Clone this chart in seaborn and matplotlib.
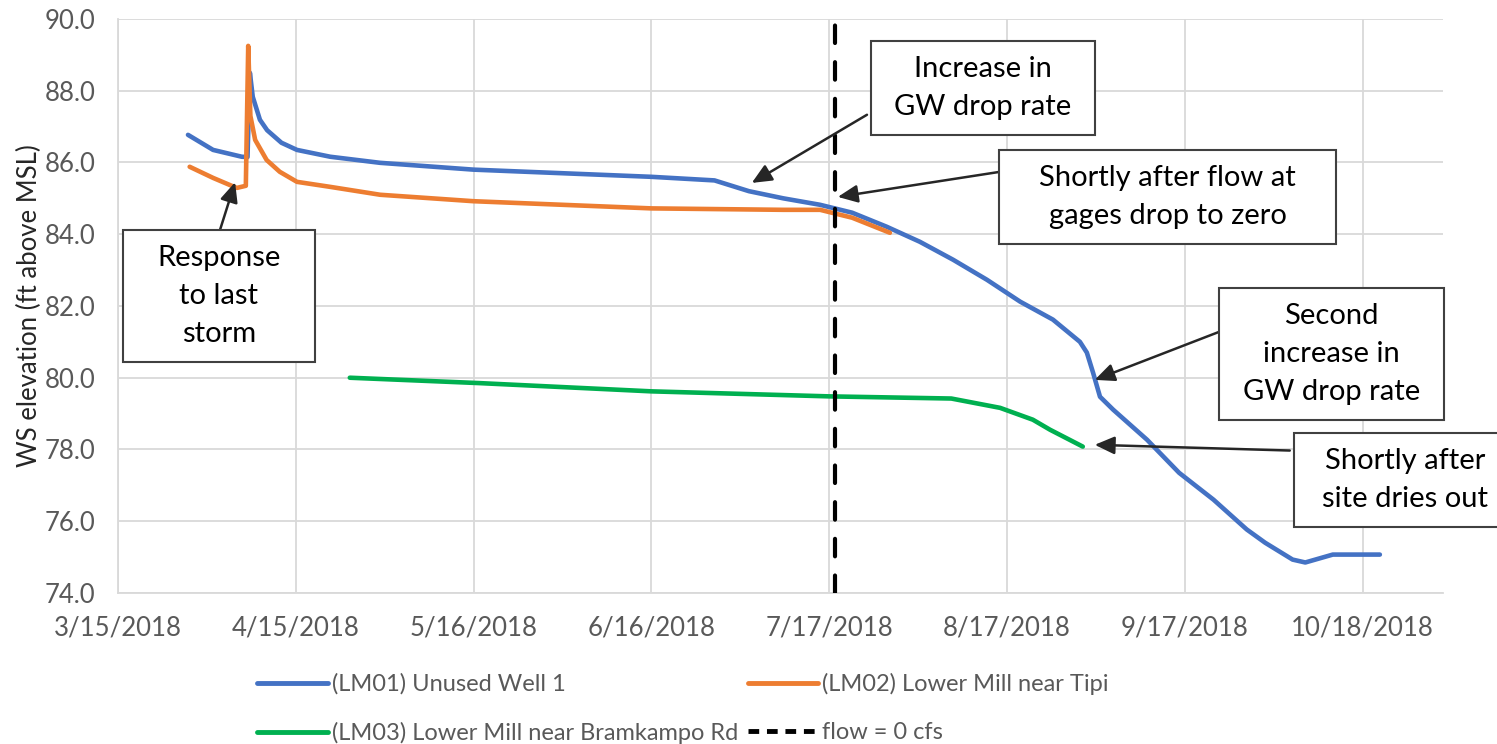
import matplotlib
matplotlib.use("Agg")
import matplotlib.pyplot as plt
import pandas as pd
import seaborn as sns
from matplotlib.lines import Line2D
from matplotlib.patches import Rectangle
from matplotlib.transforms import IdentityTransform

# well LM01 (unused well 1)
lm01_dates = [
    "2018-03-27 05:00", "2018-03-31 14:00", "2018-04-05 14:00", "2018-04-06 14:00",
    "2018-04-07 00:00", "2018-04-07 12:00", "2018-04-08 18:00", "2018-04-10 00:00",
    "2018-04-12 12:00", "2018-04-15 05:00", "2018-04-21 00:00", "2018-04-29 17:00",
    "2018-05-16 00:00", "2018-06-16 00:00", "2018-06-27 00:00", "2018-07-03 00:00",
    "2018-07-09 00:00", "2018-07-15 10:00", "2018-07-21 00:00", "2018-07-27 00:00",
    "2018-08-01 19:00", "2018-08-07 14:00", "2018-08-13 12:00", "2018-08-19 07:00",
    "2018-08-25 00:00", "2018-08-29 17:00", "2018-08-30 22:00", "2018-09-01 00:00",
    "2018-09-02 05:00", "2018-09-04 12:00", "2018-09-10 10:00", "2018-09-16 00:00",
    "2018-09-22 00:00", "2018-09-27 19:00", "2018-10-01 00:00", "2018-10-05 19:00",
    "2018-10-08 00:00", "2018-10-12 19:00", "2018-10-21 00:00",
]
lm01_values = [
    86.77, 86.35, 86.16, 86.15,
    88.50, 87.83, 87.19, 86.90,
    86.55, 86.35, 86.16, 85.99,
    85.80, 85.60, 85.50, 85.20,
    85.00, 84.82, 84.60, 84.21,
    83.79, 83.29, 82.73, 82.12,
    81.62, 81.00, 80.70, 80.14,
    79.47, 79.11, 78.27, 77.35,
    76.60, 75.77, 75.40, 74.93,
    74.85, 75.07, 75.07,
]

# LM02 (lower mill near tipi)
lm02_dates = [
    "2018-03-27 12:00", "2018-03-31 14:00", "2018-04-04 17:00", "2018-04-06 07:00",
    "2018-04-06 17:00", "2018-04-07 02:00", "2018-04-07 22:00", "2018-04-09 22:00",
    "2018-04-12 05:00", "2018-04-15 05:00", "2018-04-21 00:00", "2018-04-29 17:00",
    "2018-05-16 00:00", "2018-06-16 00:00", "2018-07-09 00:00", "2018-07-15 10:00",
    "2018-07-21 00:00", "2018-07-27 14:00",
]
lm02_values = [
    85.88, 85.57, 85.29, 85.35,
    89.25, 87.30, 86.63, 86.07,
    85.74, 85.46, 85.32, 85.10,
    84.92, 84.72, 84.68, 84.68,
    84.46, 84.04,
]

# LM03 (lower mill near bramkampo rd)
lm03_dates = [
    "2018-04-24 10:00", "2018-05-17 00:00", "2018-06-16 00:00", "2018-07-17 00:00",
    "2018-08-07 07:00", "2018-08-15 19:00", "2018-08-21 12:00", "2018-08-24 12:00",
    "2018-08-30 05:00",
]
lm03_values = [80.00, 79.85, 79.62, 79.48, 79.42, 79.16, 78.83, 78.55, 78.08]

series_names = [
    "(LM01) Unused Well 1",
    "(LM02) Lower Mill near Tipi",
    "(LM03) Lower Mill near Bramkampo Rd",
]
series_colors = ["#4472C4", "#ED7D31", "#00B050"]
flow_zero_date = "2018-07-18"
flow_label = "flow = 0 cfs"

tick_dates = ["2018-03-15", "2018-04-15", "2018-05-16", "2018-06-16",
              "2018-07-17", "2018-08-17", "2018-09-17", "2018-10-18"]
y_ticks = [74, 76, 78, 80, 82, 84, 86, 88, 90]

# (text, box centre, arrow tail, arrow head, side padding in px)
notes = [
    ("Response\nto last\nstorm", ("2018-04-01 14:00", 82.28),
     ("2018-03-31 16:00", 83.55), ("2018-04-04 10:00", 85.45), 34),
    ("Increase in\nGW drop rate", ("2018-08-12 19:00", 88.08),
     ("2018-07-23 14:00", 87.33), ("2018-07-03 12:00", 85.43), 23),
    ("Shortly after flow at\ngages drop to zero", ("2018-09-14", 85.04),
     ("2018-08-15 19:00", 85.74), ("2018-07-18 12:00", 85.04), 40),
    ("Second\nincrease in\nGW drop rate", ("2018-10-12 14:00", 80.67),
     ("2018-09-23", 81.28), ("2018-09-01 07:00", 79.94), 24),
    ("Shortly after\nsite dries out", ("2018-10-25 10:00", 77.16),
     ("2018-10-05 07:00", 77.97), ("2018-09-01 07:00", 78.13), 28),
]


def to_time(values):
    return pd.to_datetime(values, format="mixed")


frames = []
for name, d, v in zip(series_names, [lm01_dates, lm02_dates, lm03_dates],
                      [lm01_values, lm02_values, lm03_values]):
    frames.append(pd.DataFrame({"date": to_time(d), "elev": v, "site": name}))
df = pd.concat(frames, ignore_index=True)

sns.set_theme(style="whitegrid")
plt.rcParams["font.family"] = ["Lato", "DejaVu Sans"]
grey = "#595959"
grid_c = "#D9D9D9"

fig = plt.figure(figsize=(14.97, 7.44), dpi=100)
ax = fig.add_axes([0.0788, 0.2030, 0.8851, 0.7715])

sns.lineplot(data=df, x="date", y="elev", hue="site", palette=series_colors,
             hue_order=series_names, estimator=None, sort=False, linewidth=3.3,
             solid_capstyle="round", solid_joinstyle="round", legend=False, ax=ax)
ax.axvline(pd.Timestamp(flow_zero_date), color="black", linewidth=3,
           dashes=(4.2, 4.6), dash_capstyle="round", zorder=4)

ax.set_xlim(pd.Timestamp("2018-03-15"), pd.Timestamp("2018-11-01"))
ax.set_ylim(74, 90)
ax.set_xticks(to_time(tick_dates))
ax.set_xticklabels([f"{t.month}/{t.day}/{t.year}" for t in to_time(tick_dates)])
ax.set_yticks(y_ticks)
ax.set_yticklabels([f"{t:.1f}" for t in y_ticks])
ax.tick_params(axis="both", length=0, labelsize=18.5, colors=grey)
ax.tick_params(axis="x", pad=16)
ax.tick_params(axis="y", pad=16)
ax.set_xlabel("")
ax.set_ylabel("WS elevation (ft above MSL)", fontsize=18.5, color="#262626", labelpad=2)
ax.grid(True, color=grid_c, linewidth=1.3)
for side, sp in ax.spines.items():
    if side in ("left", "bottom"):
        sp.set_color(grid_c)
        sp.set_linewidth(1.3)
    else:
        sp.set_visible(False)

note_texts = []
for text, centre, tail, head, hpad in notes:
    ax.annotate("", xy=(pd.Timestamp(head[0]), head[1]),
                xytext=(pd.Timestamp(tail[0]), tail[1]),
                arrowprops=dict(arrowstyle="-|>,head_length=1.0,head_width=0.45",
                                color="#262626", linewidth=1.8, shrinkA=0, shrinkB=0),
                zorder=6)
    t = ax.text(pd.Timestamp(centre[0]), centre[1], text, ha="center", va="center",
                fontsize=21, color="black", linespacing=1.58, zorder=8)
    note_texts.append((t, hpad))

handles = [Line2D([], [], color=c, linewidth=3.5) for c in series_colors]
handles.append(Line2D([], [], color="black", linewidth=3.5, dashes=(2.2, 1.6)))
labels = series_names + [flow_label]
order = [0, 2, 1, 3]
leg = fig.legend([handles[i] for i in order], [labels[i] for i in order],
                 loc="upper left", bbox_to_anchor=(0.172, 0.0956), ncol=2,
                 frameon=False, fontsize=17, handlelength=3.0, handletextpad=0.15,
                 columnspacing=0.4, labelspacing=1.15, borderpad=0, borderaxespad=0)
for t in leg.get_texts():
    t.set_color(grey)

# boxes around the notes, sized from the rendered text
fig.canvas.draw()
vpad = 15
for t, hpad in note_texts:
    bb = t.get_window_extent()
    box = Rectangle((bb.x0 - hpad, bb.y0 - vpad), bb.width + 2 * hpad,
                    bb.height + 2 * vpad, transform=IdentityTransform(),
                    facecolor="white", edgecolor="#404040", linewidth=1.5,
                    clip_on=False, zorder=7)
    ax.add_artist(box)

fig.savefig("out.png", dpi=100)
